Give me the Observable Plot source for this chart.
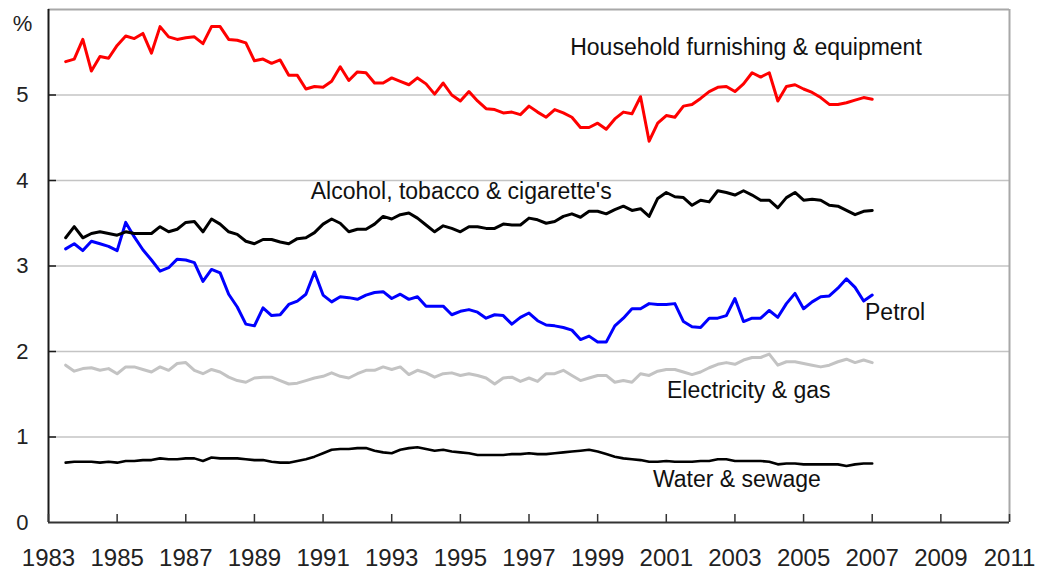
<!DOCTYPE html>
<html>
<head>
<meta charset="utf-8">
<script src="https://cdn.jsdelivr.net/npm/d3@7"></script>
<script src="https://cdn.jsdelivr.net/npm/@observablehq/plot@0.6"></script>
<style>
  html, body { margin: 0; padding: 0; background: #fff; }
  #chart { width: 1038px; height: 570px; }
</style>
</head>
<body>
<div id="chart"></div>
<script>
// Quarterly observations, first quarter plotted at mid-1983, last at 2007.0
const startYear = 1983.5;
const step = 0.25;

const household = [5.39,5.42,5.65,5.28,5.45,5.43,5.58,5.69,5.66,5.72,5.49,5.80,5.68,5.65,5.67,5.68,5.60,5.80,5.80,5.65,
  5.64,5.61,5.40,5.42,5.37,5.41,5.23,5.23,5.07,5.10,5.09,5.16,5.33,5.17,5.27,5.26,5.14,5.14,5.20,5.16,
  5.12,5.20,5.13,5.01,5.14,5.00,4.93,5.04,4.93,4.84,4.83,4.79,4.80,4.77,4.87,4.80,4.74,4.83,4.79,4.74,
  4.62,4.62,4.67,4.60,4.72,4.80,4.78,4.98,4.46,4.67,4.76,4.74,4.87,4.89,4.96,5.04,5.09,5.10,5.04,5.13,
  5.26,5.21,5.26,4.93,5.10,5.12,5.07,5.03,4.97,4.89,4.89,4.91,4.94,4.97,4.95];

const alcohol = [3.33,3.46,3.33,3.38,3.40,3.38,3.36,3.40,3.38,3.38,3.38,3.46,3.40,3.43,3.51,3.52,3.40,3.55,3.49,3.40,
  3.37,3.29,3.26,3.31,3.31,3.28,3.26,3.32,3.33,3.39,3.49,3.55,3.50,3.40,3.43,3.43,3.49,3.58,3.55,3.60,
  3.62,3.56,3.48,3.40,3.47,3.44,3.40,3.46,3.46,3.44,3.44,3.49,3.48,3.48,3.56,3.54,3.50,3.52,3.58,3.61,
  3.57,3.64,3.64,3.61,3.66,3.70,3.65,3.67,3.58,3.79,3.86,3.81,3.80,3.71,3.77,3.75,3.88,3.86,3.83,3.88,
  3.83,3.77,3.77,3.68,3.80,3.86,3.77,3.78,3.77,3.71,3.70,3.65,3.60,3.64,3.65];

const petrol = [3.20,3.26,3.18,3.29,3.26,3.23,3.18,3.51,3.34,3.19,3.07,2.94,2.98,3.08,3.07,3.04,2.82,2.96,2.92,2.67,
  2.52,2.32,2.30,2.51,2.42,2.43,2.55,2.59,2.67,2.93,2.66,2.58,2.64,2.63,2.61,2.66,2.69,2.70,2.62,2.67,
  2.61,2.64,2.53,2.53,2.53,2.43,2.47,2.49,2.46,2.39,2.43,2.42,2.32,2.40,2.45,2.36,2.31,2.30,2.28,2.25,
  2.14,2.18,2.11,2.11,2.30,2.39,2.50,2.50,2.56,2.55,2.55,2.56,2.35,2.29,2.28,2.39,2.39,2.42,2.62,2.35,
  2.39,2.39,2.48,2.40,2.56,2.68,2.50,2.58,2.64,2.65,2.74,2.85,2.75,2.59,2.66];

const electricity = [1.84,1.77,1.80,1.81,1.78,1.80,1.74,1.82,1.82,1.79,1.76,1.82,1.78,1.86,1.87,1.78,1.74,1.79,1.76,1.70,
  1.66,1.64,1.69,1.70,1.70,1.66,1.62,1.63,1.66,1.69,1.71,1.75,1.71,1.69,1.74,1.78,1.78,1.82,1.79,1.82,
  1.73,1.78,1.75,1.70,1.74,1.75,1.72,1.74,1.72,1.69,1.62,1.69,1.70,1.65,1.69,1.65,1.74,1.74,1.78,1.72,
  1.66,1.69,1.72,1.72,1.64,1.66,1.64,1.74,1.72,1.77,1.79,1.79,1.76,1.73,1.76,1.81,1.85,1.87,1.85,1.90,
  1.93,1.93,1.97,1.84,1.88,1.88,1.86,1.84,1.82,1.84,1.88,1.91,1.87,1.90,1.87];

const water = [0.70,0.71,0.71,0.71,0.70,0.71,0.70,0.72,0.72,0.73,0.73,0.75,0.74,0.74,0.75,0.75,0.72,0.76,0.75,0.75,
  0.75,0.74,0.73,0.73,0.71,0.70,0.70,0.72,0.74,0.77,0.81,0.85,0.86,0.86,0.87,0.87,0.84,0.82,0.81,0.85,
  0.87,0.88,0.86,0.84,0.85,0.83,0.82,0.81,0.79,0.79,0.79,0.79,0.80,0.80,0.81,0.80,0.80,0.81,0.82,0.83,
  0.84,0.85,0.83,0.80,0.77,0.75,0.74,0.73,0.71,0.71,0.72,0.71,0.71,0.71,0.72,0.72,0.74,0.74,0.72,0.72,
  0.72,0.72,0.71,0.68,0.69,0.69,0.68,0.68,0.68,0.68,0.68,0.66,0.68,0.69,0.69];

const xTicks = [1983,1985,1987,1989,1991,1993,1995,1997,1999,2001,2003,2005,2007,2009,2011];
const yTicks = [0,1,2,3,4,5];

const seriesNames = ["Electricity & gas","Water & sewage","Petrol","Alcohol, tobacco & cigarette's","Household furnishing & equipment"];
const seriesValues = [electricity, water, petrol, alcohol, household];
const seriesColors = ["#c3c3c3","#000000","#0000ff","#000000","#ff0000"];
const seriesWidths = [3, 2.6, 3, 3, 3];

// label anchors (data units) for the direct annotations
const labelNames = ["Household furnishing & equipment","Alcohol, tobacco & cigarette's","Petrol","Electricity & gas","Water & sewage"];
const labelX = [1998.2, 1990.64, 2006.79, 2001.02, 2000.61];
const labelY = [5.55, 3.87, 2.45, 1.54, 0.505];

const rows = seriesValues.map((vals, s) => vals.map((v, i) => ({series: seriesNames[s], year: startYear + i * step, value: v})));
const labels = labelNames.map((n, i) => ({name: n, x: labelX[i], y: labelY[i]}));

const W = 1038, H = 570, mL = 48, mR = 29, mT = 9, mB = 48, TICK = 8;
const innerW = W - mL - mR, innerH = H - mT - mB;

const lineMarks = rows.map((data, s) => Plot.line(data, {
  x: "year", y: "value", stroke: seriesColors[s], strokeWidth: seriesWidths[s],
  strokeLinejoin: "round", strokeLinecap: "round"
}));

const chart = Plot.plot({
  width: W,
  height: H,
  marginLeft: mL,
  marginRight: mR,
  marginTop: mT,
  marginBottom: mB,
  x: {domain: [1983, 2011]},
  y: {domain: [0, 6]},
  style: {fontFamily: "'Liberation Sans', Arial, sans-serif", fontSize: "22px", color: "#222", background: "#fff", overflow: "visible"},
  marks: [
    Plot.gridY(yTicks.filter(d => d > 0), {stroke: "#c4c4c4", strokeOpacity: 1, strokeWidth: 1.3}),
    Plot.ruleY([6], {stroke: "#a8a8a8", strokeWidth: 2}),
    Plot.ruleX([2011], {stroke: "#a8a8a8", strokeWidth: 2}),
    ...lineMarks,
    Plot.ruleX([1983], {stroke: "#1a1a1a", strokeWidth: 2}),
    Plot.ruleY([0], {stroke: "#333", strokeWidth: 2}),
    // inward tick marks
    Plot.tickX(xTicks, {x: d => d, insetTop: innerH - TICK, stroke: "#333", strokeWidth: 1.5}),
    Plot.tickY(yTicks.filter(d => d > 0), {y: d => d, insetRight: innerW - TICK, stroke: "#1a1a1a", strokeWidth: 1.5}),
    Plot.axisX({ticks: xTicks, tickSize: 0, tickPadding: 26, tickFormat: d => String(d), label: null, fontSize: 24, fill: "#222"}),
    Plot.axisY({ticks: yTicks, tickSize: 0, tickPadding: 20, tickFormat: d => String(d), label: null, fontSize: 22, fill: "#222"}),
    Plot.text(["%"], {frameAnchor: "top-left", dx: -26, dy: 14, textAnchor: "middle", lineAnchor: "middle", fontSize: 22, fill: "#222"}),
    Plot.text(labels, {x: "x", y: "y", text: "name", textAnchor: "start", fontSize: 23, fill: "#111"})
  ]
});
document.getElementById("chart").appendChild(chart);
</script>
</body>
</html>
